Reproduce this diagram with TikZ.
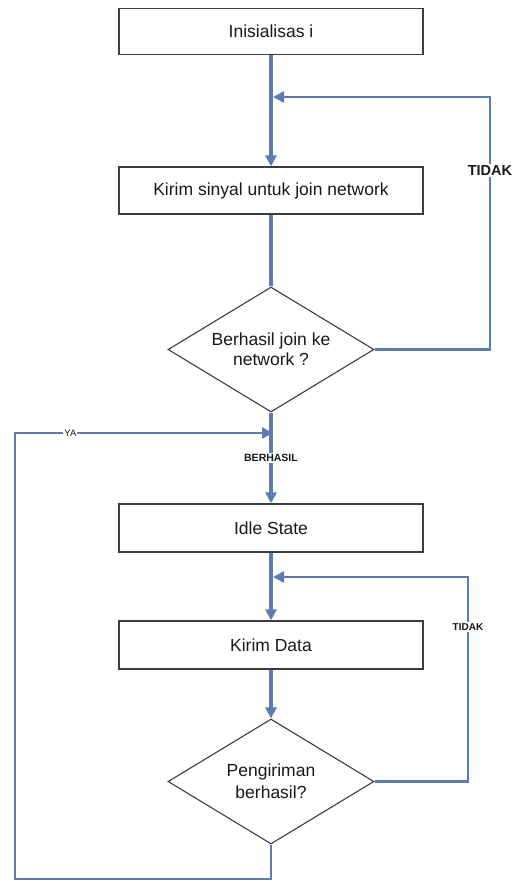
\documentclass[tikz,border=0pt]{standalone}
\usepackage{fontspec}
\setmainfont{Liberation Sans}
\usetikzlibrary{shapes.geometric,arrows.meta}
\definecolor{flow}{RGB}{92,124,178}
\definecolor{ink}{RGB}{25,25,25}
\tikzset{
  procbox/.style={draw=ink!85, line width=1.4pt, fill=white, minimum width=304pt, minimum height=46pt, inner sep=0pt, text=ink, font=\fontsize{17.5}{20}\selectfont},
  decide/.style={diamond, draw=ink!85, line width=1.1pt, fill=white, minimum width=206pt, minimum height=125pt, aspect=1.65, inner sep=0pt, text=ink, align=center},
  mainflow/.style={draw=flow, line width=3.2pt},
  loopflow/.style={draw=flow, line width=2.4pt},
  tip/.style={-{Triangle[length=11pt,width=11pt]}},
  lbl/.style={fill=white, inner sep=1.5pt, text=ink, font=\bfseries\fontsize{#1}{#1}\selectfont},
}
\begin{document}
\begin{tikzpicture}[x=1pt,y=-1pt]
\useasboundingbox (0,0) rectangle (515,881);
\node[procbox] (init) at (271,31.5) {Inisialisas i};
\node[procbox, minimum height=47pt] (kirim) at (271,190.5) {Kirim sinyal untuk join network};
\node[decide, font=\fontsize{17.5}{20}\selectfont] (d1) at (271,349.5) {Berhasil join ke\\network ?};
\node[procbox, minimum height=48pt] (idle) at (271,528) {Idle State};
\node[procbox, minimum height=48pt] (data) at (271,645) {Kirim Data};
\node[decide, font=\fontsize{17.5}{22}\selectfont] (d2) at (271,781.5) {Pengiriman\\berhasil?};

\coordinate (j1) at (273,97);
\coordinate (r1) at (490,97);
\coordinate (r1b) at (490,349.5);
\coordinate (j2) at (273,433);
\coordinate (l1) at (15,433);
\coordinate (l2) at (15,879);
\coordinate (b1) at (271,879);
\coordinate (j3) at (273,577);
\coordinate (r2) at (468,577);
\coordinate (r2b) at (468,781.5);

% main flow
\draw[mainflow, tip] (init.south) -- (kirim.north);
\draw[mainflow] (kirim.south) -- (d1.north);
\draw[mainflow, tip] (d1.south) -- node[lbl=10.5, pos=0.5] (berhasil) {BERHASIL} (idle.north);
\draw[mainflow, tip] (idle.south) -- (data.north);
\draw[mainflow, tip] (data.south) -- (d2.north);

% loop 1 (TIDAK)
\draw[loopflow, tip] (d1.east) -- (r1b) -- node[lbl=14.5, pos=0.71] (tidak1) {TIDAK} (r1) -- (j1);

% loop 2 (TIDAK)
\draw[loopflow, tip] (d2.east) -- (r2b) -- node[lbl=10, pos=0.755] (tidak2) {TIDAK} (r2) -- (j3);

% YA loop
\draw[loopflow, tip] (d2.south) -- (b1) -- (l2) -- (l1) -- node[fill=white, inner sep=1pt, text=ink, pos=0.215, font=\fontsize{9.5}{9.5}\selectfont] (ya) {YA} (j2);
\end{tikzpicture}
\end{document}
